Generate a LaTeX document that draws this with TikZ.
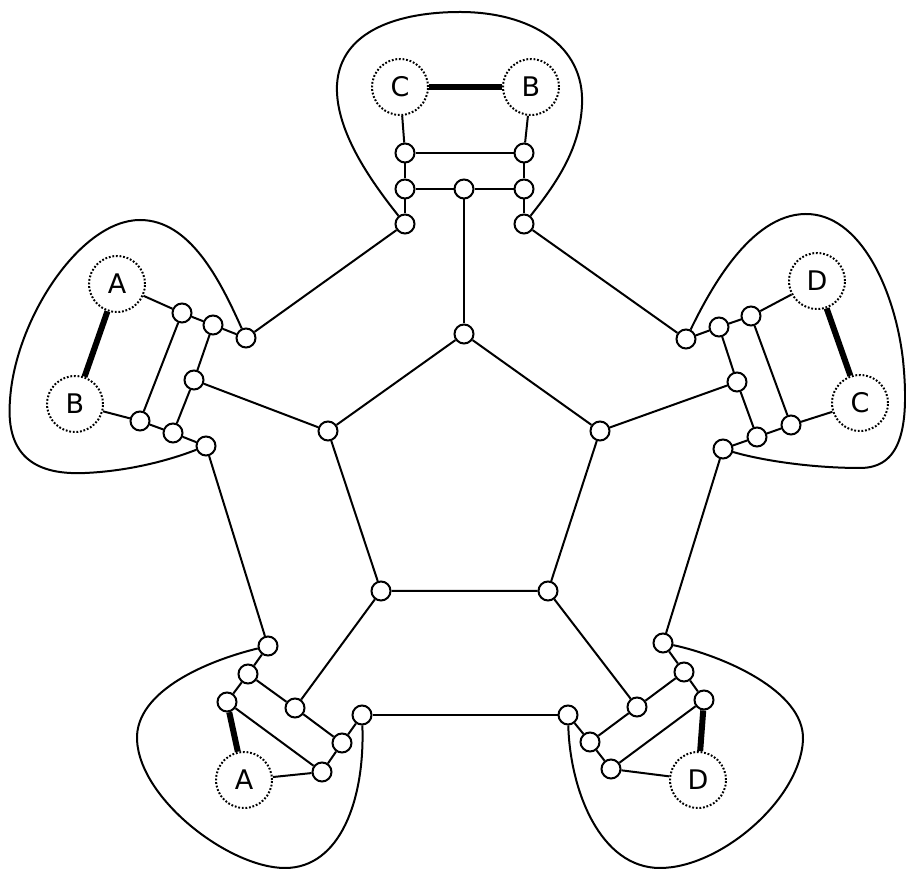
\documentclass[tikz,border=0pt]{standalone}
\usepackage{fontspec}
\setmainfont{DejaVu Sans}
\usepackage{tikz}
\usetikzlibrary{shapes,positioning,calc}

\begin{document}
\begin{tikzpicture}[
  x=0.5pt, y=-0.5pt,
  vtx/.style={draw, circle, fill=white, minimum size=9.5pt, inner sep=0pt, line width=1pt},
  term/.style={draw, circle, fill=white, minimum size=28pt, inner sep=0pt,
               line width=1pt, dash pattern=on 0.9pt off 0.9pt,
               font=\fontsize{13.5}{16}\selectfont},
  edge/.style={line width=1pt},
  heavy/.style={line width=3pt},
  blob/.style={line width=1pt}
]
\useasboundingbox (0,0) rectangle (906,870);

\node[term] (topC) at (400,87)  {C};
\node[term] (topB) at (531,87)  {B};
\node[vtx]  (t1)   at (405,153) {};
\node[vtx]  (t2)   at (524,153) {};
\node[vtx]  (t3)   at (405,189) {};
\node[vtx]  (t4)   at (464,189) {};
\node[vtx]  (t5)   at (524,189) {};
\node[vtx]  (t6)   at (405,224) {};
\node[vtx]  (t7)   at (524,224) {};

\node[vtx] (p1) at (464,334) {};
\node[vtx] (p2) at (328,431) {};
\node[vtx] (p3) at (600,431) {};
\node[vtx] (p4) at (381,591) {};
\node[vtx] (p5) at (548,591) {};

\node[term] (leftA) at (117,284) {A};
\node[term] (leftB) at (75,404)  {B};
\node[vtx]  (l1)    at (182,313) {};
\node[vtx]  (l2)    at (213,325) {};
\node[vtx]  (l3)    at (246,338) {};
\node[vtx]  (l4)    at (194,380) {};
\node[vtx]  (l5)    at (140,421) {};
\node[vtx]  (l6)    at (173,433) {};
\node[vtx]  (l7)    at (206,446) {};

\node[term] (rightD) at (817,281) {D};
\node[term] (rightC) at (860,403) {C};
\node[vtx]  (r1)     at (751,316) {};
\node[vtx]  (r2)     at (719,327) {};
\node[vtx]  (r3)     at (686,339) {};
\node[vtx]  (r4)     at (737,382) {};
\node[vtx]  (r5)     at (791,425) {};
\node[vtx]  (r6)     at (757,437) {};
\node[vtx]  (r7)     at (723,449) {};

\node[term] (botA) at (244,780) {A};
\node[vtx]  (a1)   at (268,646) {};
\node[vtx]  (a2)   at (248,674) {};
\node[vtx]  (a3)   at (227,702) {};
\node[vtx]  (a4)   at (295,708) {};
\node[vtx]  (a5)   at (362,715) {};
\node[vtx]  (a6)   at (342,743) {};
\node[vtx]  (a7)   at (322,772) {};

\node[term] (botD) at (698,780) {D};
\node[vtx]  (d1)   at (663,643) {};
\node[vtx]  (d2)   at (684,672) {};
\node[vtx]  (d3)   at (704,700) {};
\node[vtx]  (d4)   at (637,707) {};
\node[vtx]  (d5)   at (568,715) {};
\node[vtx]  (d6)   at (590,742) {};
\node[vtx]  (d7)   at (611,769) {};

\draw[heavy] (topC) -- (topB);
\draw[edge] (topC) -- (t1);
\draw[edge] (topB) -- (t2);
\draw[edge] (t1) -- (t2);
\draw[edge] (t1) -- (t3) -- (t6);
\draw[edge] (t2) -- (t5) -- (t7);
\draw[edge] (t3) -- (t4) -- (t5);
\draw[edge] (t4) -- (p1);
\draw[edge] (t6) -- (l3);
\draw[edge] (t7) -- (r3);

\draw[edge] (p1) -- (p2) -- (p4) -- (p5) -- (p3) -- (p1);

\draw[heavy] (leftA) -- (leftB);
\draw[edge] (leftA) -- (l1);
\draw[edge] (leftB) -- (l5);
\draw[edge] (l1) -- (l2) -- (l3);
\draw[edge] (l1) -- (l5);
\draw[edge] (l5) -- (l6) -- (l7);
\draw[edge] (l2) -- (l4) -- (l6);
\draw[edge] (l4) -- (p2);
\draw[edge] (l7) -- (a1);

\draw[heavy] (rightD) -- (rightC);
\draw[edge] (rightD) -- (r1);
\draw[edge] (rightC) -- (r5);
\draw[edge] (r1) -- (r2) -- (r3);
\draw[edge] (r1) -- (r5);
\draw[edge] (r5) -- (r6) -- (r7);
\draw[edge] (r2) -- (r4) -- (r6);
\draw[edge] (r4) -- (p3);
\draw[edge] (r7) -- (d1);

\draw[heavy] (a3) -- (botA);
\draw[edge] (a1) -- (a2) -- (a3);
\draw[edge] (a3) -- (a7);
\draw[edge] (botA) -- (a7);
\draw[edge] (a2) -- (a4) -- (a6);
\draw[edge] (a4) -- (p4);
\draw[edge] (a5) -- (a6) -- (a7);
\draw[edge] (a5) -- (d5);

\draw[heavy] (d3) -- (botD);
\draw[edge] (d1) -- (d2) -- (d3);
\draw[edge] (d3) -- (d7);
\draw[edge] (botD) -- (d7);
\draw[edge] (d2) -- (d4) -- (d6);
\draw[edge] (d4) -- (p5);
\draw[edge] (d5) -- (d6) -- (d7);

\draw[blob] (t6) .. controls (370,180) and (335,130) .. (337,85)
  .. controls (340,30) and (400,12) .. (460,12)
  .. controls (530,12) and (585,45) .. (582,105)
  .. controls (580,150) and (555,185) .. (t7);
\draw[blob] (l3) .. controls (220,280) and (190,220) .. (140,220)
  .. controls (80,220) and (15,320) .. (10,400)
  .. controls (5,460) and (40,475) .. (85,473)
  .. controls (130,471) and (170,460) .. (l7);
\draw[blob] (r3) .. controls (710,290) and (750,215) .. (805,214)
  .. controls (860,213) and (895,290) .. (903,360)
  .. controls (910,430) and (900,468) .. (860,468)
  .. controls (810,468) and (760,460) .. (r7);
\draw[blob] (a1) .. controls (210,660) and (135,690) .. (137,740)
  .. controls (140,800) and (230,868) .. (285,868)
  .. controls (340,868) and (365,800) .. (a5);
\draw[blob] (d1) .. controls (720,655) and (805,690) .. (803,740)
  .. controls (800,800) and (720,868) .. (660,868)
  .. controls (600,868) and (570,790) .. (d5);

\end{tikzpicture}
\end{document}
